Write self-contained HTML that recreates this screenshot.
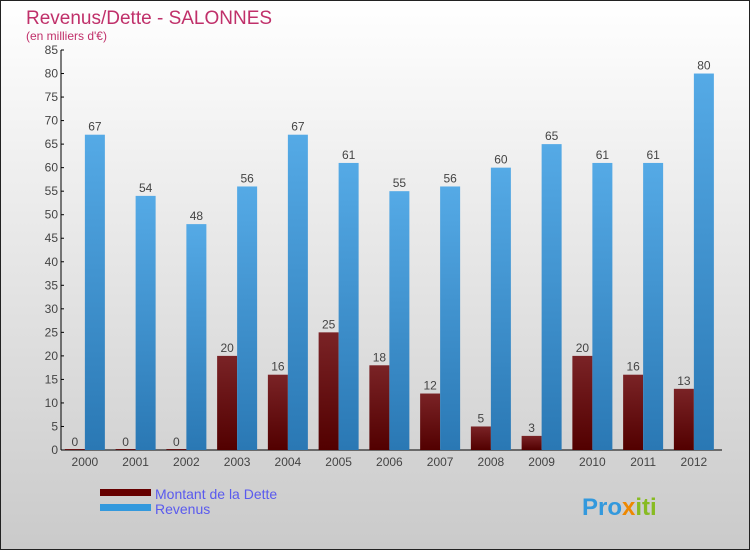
<!DOCTYPE html>
<html><head><meta charset="utf-8"><style>
body{margin:0;}
svg{display:block;font-family:"Liberation Sans",sans-serif;}
</style></head><body>
<svg id="chart" width="750" height="550" xmlns="http://www.w3.org/2000/svg">
<defs>
<linearGradient id="bg" x1="0" y1="0" x2="0" y2="1"><stop offset="0" stop-color="#ffffff"/><stop offset="1" stop-color="#cacaca"/></linearGradient>
<linearGradient id="gd" x1="0" y1="0" x2="0" y2="1"><stop offset="0" stop-color="#7a2326"/><stop offset="1" stop-color="#520000"/></linearGradient>
<linearGradient id="gr" x1="0" y1="0" x2="0" y2="1"><stop offset="0" stop-color="#55aae6"/><stop offset="1" stop-color="#2a78b4"/></linearGradient>
</defs>
<rect x="0.5" y="0.5" width="749" height="549" fill="url(#bg)" stroke="#222"/>
<text x="26" y="24" font-size="19" fill="#c0306a">Revenus/Dette - SALONNES</text>
<text x="26" y="40" font-size="12" fill="#c0306a">(en milliers d'€)</text>
<g id="axes"></g>
<g id="bars"></g>
<rect x="100" y="489" width="51" height="7" fill="#660000"/>
<text x="155" y="499" font-size="14" fill="#5a5aee">Montant de la Dette</text>
<rect x="100" y="504" width="51" height="7" fill="#3399dd"/>
<text x="155" y="514" font-size="14" fill="#5a5aee">Revenus</text>
<text x="582" y="515" font-size="24" font-weight="bold" fill="#3399dd">Pro<tspan fill="#ee8800">x</tspan><tspan fill="#88bb22">iti</tspan></text>
</svg>
<script>
const years=["2000","2001","2002","2003","2004","2005","2006","2007","2008","2009","2010","2011","2012"];
const dette=[0,0,0,20,16,25,18,12,5,3,20,16,13];
const revenus=[67,54,48,56,67,61,55,56,60,65,61,61,80];
const yTicks=[0,5,10,15,20,25,30,35,40,45,50,55,60,65,70,75,80,85];
const NS="http://www.w3.org/2000/svg";
const x0=59.5,step=50.75,yBase=450,yMax=85,yTop=50;
const y=v=>yBase-(v/yMax)*(yBase-yTop);
const cx=i=>x0+step*(i+0.5);
function mk(t,a,p){const e=document.createElementNS(NS,t);for(const k in a)e.setAttribute(k,a[k]);p.appendChild(e);return e;}
const ax=document.getElementById('axes'),bg=document.getElementById('bars');
let l=mk('line',{x1:61,y1:yTop,x2:61,y2:yBase,stroke:'#000'},ax);


l=mk('line',{x1:61,y1:yBase,x2:722,y2:yBase,stroke:'#000'},ax);


yTicks.forEach(v=>{
 const tk=mk('line',{x1:61,y1:y(v),x2:64,y2:y(v),stroke:'#000'},ax);
 
 
 const t=mk('text',{x:58,y:y(v)+4,'font-size':12,fill:'#444','text-anchor':'end'},ax);
 t.textContent=v;
 
 
});
years.forEach((yr,i)=>{
 const c=cx(i);
 const t=mk('text',{x:c,y:466,'font-size':12,fill:'#444','text-anchor':'middle'},ax);
 t.textContent=yr;
 
 
 const d=dette[i],r=revenus[i];
 const bd=mk('rect',{x:c-20,y:y(d)-(d===0?1:0),width:20,height:Math.max(1,yBase-y(d)),fill:'url(#gd)'},bg);
 
 
 const br=mk('rect',{x:c,y:y(r),width:20,height:yBase-y(r),fill:'url(#gr)'},bg);
 
 
 const ld=mk('text',{x:c-10,y:y(d)-4,'font-size':12,fill:'#444','text-anchor':'middle'},bg);
 ld.textContent=d;
 
 
 const lr=mk('text',{x:c+10,y:y(r)-4,'font-size':12,fill:'#444','text-anchor':'middle'},bg);
 lr.textContent=r;
 
 
});
</script>
</body></html>
